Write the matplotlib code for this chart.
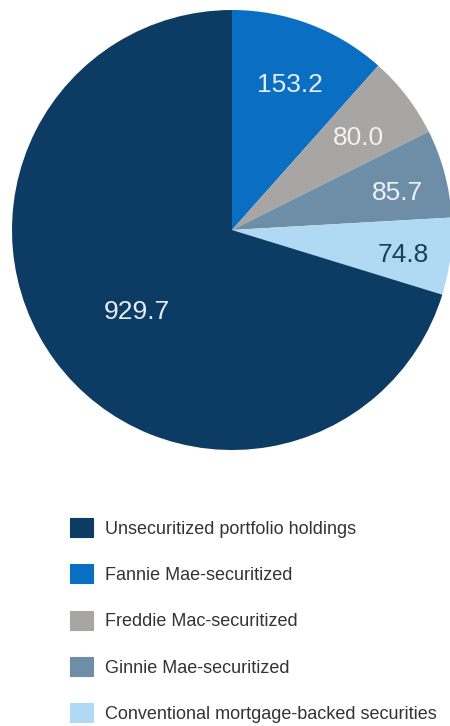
import numpy as np
import matplotlib
matplotlib.use("Agg")
import matplotlib.pyplot as plt
import matplotlib.patches as mpatches

plt.rcParams['font.family'] = ['Liberation Sans', 'DejaVu Sans']

# holdings, billions of dollars (legend order)
labels = ['Unsecuritized portfolio holdings',
          'Fannie Mae-securitized',
          'Freddie Mac-securitized',
          'Ginnie Mae-securitized',
          'Conventional mortgage-backed securities']
values = [929.7, 153.2, 80.0, 85.7, 74.8]
colors = ['#0c3b63', '#0a6fc2', '#a8a6a4', '#6e8ea8', '#b0daf3']
txtcolors = ['#e6edf4', '#e6edf4', '#f2f2f2', '#eef2f6', '#1c3e5e']
# where each value label sits: fraction of radius, and nudge off the mid-angle (deg)
labrad = [0.57, 0.71, 0.71, 0.77, 0.785]
labnudge = [4.4, -1.0, -1.3, -2.3, -1.3]

# pie goes clockwise from 12 o'clock, Fannie first, unsecuritized last
order = [1, 2, 3, 4, 0]

fig = plt.figure(figsize=(4.5, 7.26), dpi=100)
W, H = 450.0, 726.0
cx, cy, R = 232.0, 230.0, 220.0
ax = fig.add_axes([(cx - R) / W, 1 - (cy + R) / H, 2 * R / W, 2 * R / H])

wedges, _ = ax.pie([values[i] for i in order],
                   colors=[colors[i] for i in order],
                   startangle=90, counterclock=False, radius=1.0,
                   wedgeprops=dict(linewidth=0))

for w, i in zip(wedges, order):
    ang = np.deg2rad(0.5 * (w.theta1 + w.theta2) + labnudge[i])
    r = labrad[i]
    ax.text(r * np.cos(ang), r * np.sin(ang), '%.1f' % values[i],
            ha='center', va='center', fontsize=19, color=txtcolors[i])

ax.set_xlim(-1, 1)
ax.set_ylim(-1, 1)
ax.axis('off')

handles = [mpatches.Patch(facecolor=c, edgecolor=c, linewidth=0.8) for c in colors]
fig.legend(handles, labels, loc='upper left',
           bbox_to_anchor=(70 / W, 1 - 518 / H),
           frameon=False, fontsize=13, borderpad=0, borderaxespad=0,
           handlelength=1.25, handleheight=1.25, handletextpad=0.7,
           labelspacing=1.48, labelcolor='#333333')

fig.savefig('out.png', dpi=100, facecolor='white')
